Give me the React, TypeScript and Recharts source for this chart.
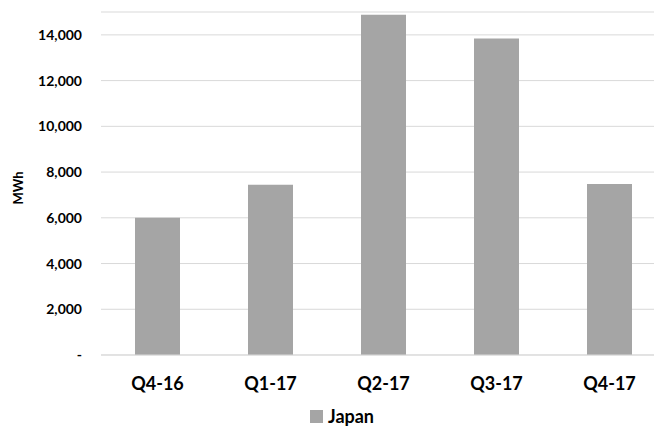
import React from 'react';
import { BarChart, Bar, XAxis, YAxis, CartesianGrid } from 'recharts';

const quarters = ['Q4-16', 'Q1-17', 'Q2-17', 'Q3-17', 'Q4-17'];
const japanMWh = [6000, 7440, 14880, 13840, 7480];
const yTicks = [0, 2000, 4000, 6000, 8000, 10000, 12000, 14000];
const seriesName = 'Japan';

const data = quarters.map((q, i) => ({ name: q, value: japanMWh[i] }));

const FONT = 'Lato, "Open Sans", sans-serif';
const BAR = '#a5a5a5';
const GRID = '#d9d9d9';

const fmt = (v: number) => (v === 0 ? '-' : v.toLocaleString('en-US'));

const UnitLabel = () => (
  <text
    x={18}
    y={188}
    transform="rotate(-90, 18, 188)"
    textAnchor="middle"
    dominantBaseline="central"
    fontFamily={FONT}
    fontWeight={700}
    fontSize={13}
    fill="#000"
  >
    MWh
  </text>
);

export default function App() {
  return (
    <div style={{ position: 'fixed', left: 0, top: 0, width: 654, height: 428, overflow: 'hidden', background: '#fff' }}>
      <BarChart width={700} height={428} data={data} margin={{ top: 12, right: 34, bottom: 43, left: 1 }}>
        <CartesianGrid vertical={false} stroke={GRID} strokeWidth={1} />
        <XAxis
          dataKey="name"
          height={30}
          axisLine={{ stroke: GRID }}
          tickLine={false}
          tickSize={0}
          tickMargin={22}
          tick={{ fontFamily: FONT, fontWeight: 700, fontSize: 18, fill: '#000' }}
        />
        <YAxis
          width={100}
          domain={[0, 15000]}
          ticks={yTicks}
          interval={0}
          allowDataOverflow
          axisLine={false}
          tickLine={false}
          tickSize={0}
          tickMargin={19}
          tickFormatter={fmt}
          tick={{ fontFamily: FONT, fontWeight: 700, fontSize: 14, fill: '#000' }}
          label={<UnitLabel />}
        />
        <Bar dataKey="value" name={seriesName} fill={BAR} barSize={45} isAnimationActive={false} />
      </BarChart>
      <div
        style={{
          position: 'absolute',
          left: 0,
          top: 405,
          width: 654,
          display: 'flex',
          justifyContent: 'center',
          alignItems: 'center',
          fontFamily: FONT,
          fontWeight: 700,
          fontSize: 18,
          color: '#000',
          paddingLeft: 30,
          boxSizing: 'border-box',
        }}
      >
        <span style={{ display: 'inline-block', width: 13, height: 13, background: BAR, marginRight: 5 }} />
        <span>{seriesName}</span>
      </div>
    </div>
  );
}
